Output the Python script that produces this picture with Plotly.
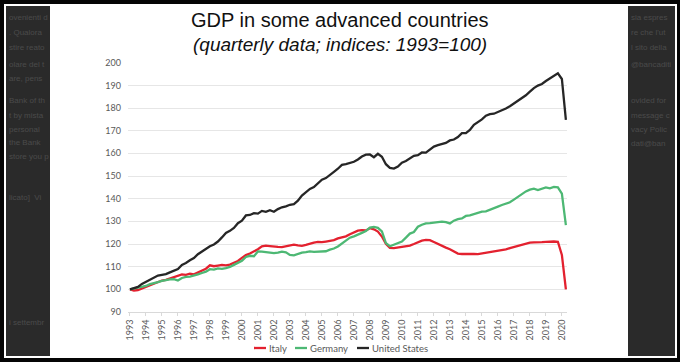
import plotly.graph_objects as go

# ---------------- data (quarterly, 1993Q1 - 2020Q2; index 1993 = 100) ----------------
years = list(range(1993, 2021))
year_labels = [str(y) for y in years]

italy = [
    100.0, 99.5, 99.7, 100.4,
    101.0, 101.8, 102.4, 102.9,
    103.9, 104.2, 104.8, 105.4,
    106.0, 106.6, 106.4, 106.9,
    106.6, 107.5, 108.3, 109.1,
    110.6, 110.2, 110.5, 110.8,
    110.6, 110.9, 111.7, 112.5,
    113.9, 115.1, 115.8, 116.6,
    117.7, 119.0, 119.3, 119.1,
    118.8, 118.7, 118.6, 118.9,
    119.3, 119.7, 119.4, 119.2,
    119.6, 120.2, 120.6, 120.9,
    120.8, 121.1, 121.3, 121.7,
    122.5, 122.9, 123.4, 124.3,
    125.0, 125.9, 126.1, 126.0,
    127.0, 126.5, 125.5, 123.3,
    120.1, 118.3, 118.2, 118.5,
    118.7, 119.0, 119.3, 120.0,
    120.8, 121.5, 121.8, 121.7,
    120.9, 120.0, 119.0, 118.4,
    117.7, 116.8, 115.8, 115.6,
    115.7, 115.6, 115.6, 115.5,
    115.8, 115.9, 116.4, 116.7,
    117.0, 117.3, 117.6, 118.2,
    118.7, 119.2, 119.7, 120.1,
    120.6, 120.7, 120.6, 120.8,
    120.9, 121.1, 121.1, 121.0,
    115.2, 100.0,
]

germany = [
    100.0, 100.3, 100.9, 101.0,
    101.5, 102.3, 102.9, 103.2,
    103.7, 104.2, 104.4, 104.5,
    103.9, 105.0, 105.5, 105.6,
    106.0, 106.6, 107.2, 107.8,
    108.9, 108.7, 109.2, 109.0,
    109.4, 109.9, 110.8, 111.6,
    112.6, 114.3, 114.8, 114.6,
    116.7, 116.6, 116.4, 116.2,
    116.0, 116.2, 116.6, 116.3,
    115.2, 115.0, 115.6, 116.2,
    116.4, 116.7, 116.5, 116.6,
    116.4, 116.8, 117.5, 118.0,
    118.9, 120.3, 121.5, 122.8,
    123.4, 124.0, 124.9, 125.7,
    127.2, 127.5, 127.1, 125.6,
    120.4, 119.0, 119.6, 120.3,
    121.1, 122.8, 124.6, 125.3,
    127.6, 128.5, 129.1, 129.2,
    129.4, 129.6, 129.9, 129.6,
    129.1, 130.3, 131.0, 131.3,
    132.4, 132.6, 133.1, 133.6,
    134.3, 134.4, 135.2, 135.8,
    136.5, 137.2, 137.8, 138.4,
    139.6, 140.8, 142.1, 143.2,
    144.0, 144.4, 143.8, 144.5,
    145.0, 144.6, 145.2, 145.0,
    142.2, 128.3,
]

united_states = [
    100.0, 100.6, 101.1, 102.4,
    103.3, 104.4, 105.0, 106.1,
    106.4, 106.7, 107.5, 108.3,
    109.0, 110.8, 111.6, 112.8,
    113.8, 115.5, 116.8, 117.8,
    119.0, 119.8, 121.1, 122.9,
    124.9, 125.8, 127.1, 129.2,
    130.3, 132.6, 132.8, 133.6,
    133.4, 134.6, 134.2, 134.9,
    134.2, 135.4, 136.2, 136.6,
    137.3, 137.6, 139.1, 141.4,
    143.0, 144.3, 145.1, 146.6,
    148.4, 149.1, 150.3, 151.8,
    153.2, 154.9, 155.2, 155.8,
    156.3, 157.3, 158.6, 159.4,
    159.5, 158.3, 159.8, 158.5,
    155.2, 153.6, 153.3, 154.2,
    155.9, 156.6, 157.9, 158.9,
    159.2, 160.4, 160.3, 161.6,
    163.0, 163.6, 164.1, 164.6,
    165.7, 166.1, 167.2, 168.9,
    168.9, 170.3, 172.6, 173.7,
    175.0, 176.6, 177.3, 177.5,
    178.2, 178.8, 179.8, 180.8,
    182.0, 183.0, 184.2, 185.6,
    187.2, 188.8, 189.9, 190.6,
    191.9, 193.0, 194.1, 195.3,
    192.8, 174.8,
]

series_names = ["Italy", "Germany", "United States"]
series_colors = ["#E3212F", "#4DB874", "#262626"]
y_ticks = list(range(90, 201, 10))

# quarterly time positions (year + fraction)
quarters = [1993 + i / 4 for i in range(len(italy))]

# ---------------- layout helpers (pixel -> paper) ----------------
W, H = 680, 362
ML, MR, MT, MB = 128, 113, 62, 50
PW, PH = W - ML - MR, H - MT - MB


def px(x):
    return (x - ML) / PW


def py(y):
    return (H - MB - y) / PH


fig = go.Figure()

for name, vals, col in zip(series_names, [italy, germany, united_states], series_colors):
    fig.add_trace(go.Scatter(
        x=quarters, y=vals, mode="lines", name=name,
        line=dict(color=col, width=2.3),
    ))

shapes = [
    # slide (white) inside black frame
    dict(type="rect", xref="paper", yref="paper", layer="below",
         x0=px(4), x1=px(677), y0=py(358), y1=py(4),
         fillcolor="white", line=dict(width=0)),
    # blurred dark web page panels
    dict(type="rect", xref="paper", yref="paper", layer="below",
         x0=px(6), x1=px(50), y0=py(356), y1=py(6),
         fillcolor="#2a2a2a", line=dict(width=0)),
    dict(type="rect", xref="paper", yref="paper", layer="below",
         x0=px(628), x1=px(675), y0=py(356), y1=py(6),
         fillcolor="#2a2a2a", line=dict(width=0)),
]

annotations = [
    dict(text="GDP in some advanced countries", x=px(340), y=py(20),
         xref="paper", yref="paper", showarrow=False,
         font=dict(family="Liberation Sans, Arial", size=20, color="#111111"),
         xanchor="center", yanchor="middle"),
    dict(text="<i>(quarterly data; indices: 1993=100)</i>", x=px(340), y=py(45),
         xref="paper", yref="paper", showarrow=False,
         font=dict(family="Liberation Sans, Arial", size=19, color="#111111"),
         xanchor="center", yanchor="middle"),
]

# legend (drawn at the bottom, Excel-style short line samples)
legend_pos = [(254, 267), (295, 308), (357, 370)]
LEG_Y = 348
for (lx, tx), name, col in zip(legend_pos, series_names, series_colors):
    shapes.append(dict(type="line", xref="paper", yref="paper",
                       x0=px(lx), x1=px(lx + 12), y0=py(LEG_Y), y1=py(LEG_Y),
                       line=dict(color=col, width=2.3)))
    annotations.append(dict(text=name, x=px(tx), y=py(LEG_Y), xref="paper", yref="paper",
                            showarrow=False, xanchor="left", yanchor="middle",
                            font=dict(family="Lato, Open Sans", size=9.5, color="#595959")))

# faint background page text in dark side panels
left_txt = [("ovenienti d", 17), (". Qualora", 33), ("stire reato", 48),
            ("olare del t", 64), ("are, pens", 79), ("Bank of th", 100),
            ("t by mista", 115), ("personal", 129), ("the Bank", 142),
            ("store you p", 156), ("licato]  Vi", 197), ("i settembr", 322)]
right_txt = [("sia espres", 17), ("re che l'ut", 33), ("l sito della", 48),
             ("@bancaditi", 64), ("ovided for", 100), ("message c", 115),
             ("vacy Polic", 129), ("dati@ban", 143)]
for t, yy in left_txt:
    annotations.append(dict(text=t, x=px(7), y=py(yy), xref="paper", yref="paper",
                            showarrow=False, xanchor="left", yanchor="middle",
                            font=dict(family="Liberation Sans", size=8, color="#4a4a4a")))
for t, yy in right_txt:
    annotations.append(dict(text=t, x=px(629), y=py(yy), xref="paper", yref="paper",
                            showarrow=False, xanchor="left", yanchor="middle",
                            font=dict(family="Liberation Sans", size=8, color="#4a4a4a")))

fig.update_layout(
    width=W, height=H,
    margin=dict(l=ML, r=MR, t=MT, b=MB, pad=0, autoexpand=False),
    paper_bgcolor="#050505",
    plot_bgcolor="rgba(0,0,0,0)",
    shapes=shapes,
    annotations=annotations,
    showlegend=False,
    xaxis=dict(
        range=[1992.88, 2020.32],
        tickmode="array", tickvals=years, ticktext=year_labels,
        tickangle=-90, automargin=False,
        tickfont=dict(family="Lato, Open Sans", size=9, color="#595959"),
        showgrid=False, zeroline=False,
        showline=True, linecolor="#d9d9d9", linewidth=1,
        ticks="outside", ticklen=3, tickcolor="#d9d9d9",
    ),
    yaxis=dict(
        range=[90, 200.3], automargin=False,
        tickmode="array", tickvals=y_ticks,
        tickfont=dict(family="Lato, Open Sans", size=9, color="#595959"),
        showgrid=True, gridcolor="#e6e6e6", gridwidth=1,
        zeroline=False, showline=False, ticks="",
        ticklabelstandoff=6,
    ),
)

fig.write_html(
    "out.html",
    config={"displayModeBar": False},
    post_script="document.body.style.margin='0';document.body.style.background='#050505';",
)
